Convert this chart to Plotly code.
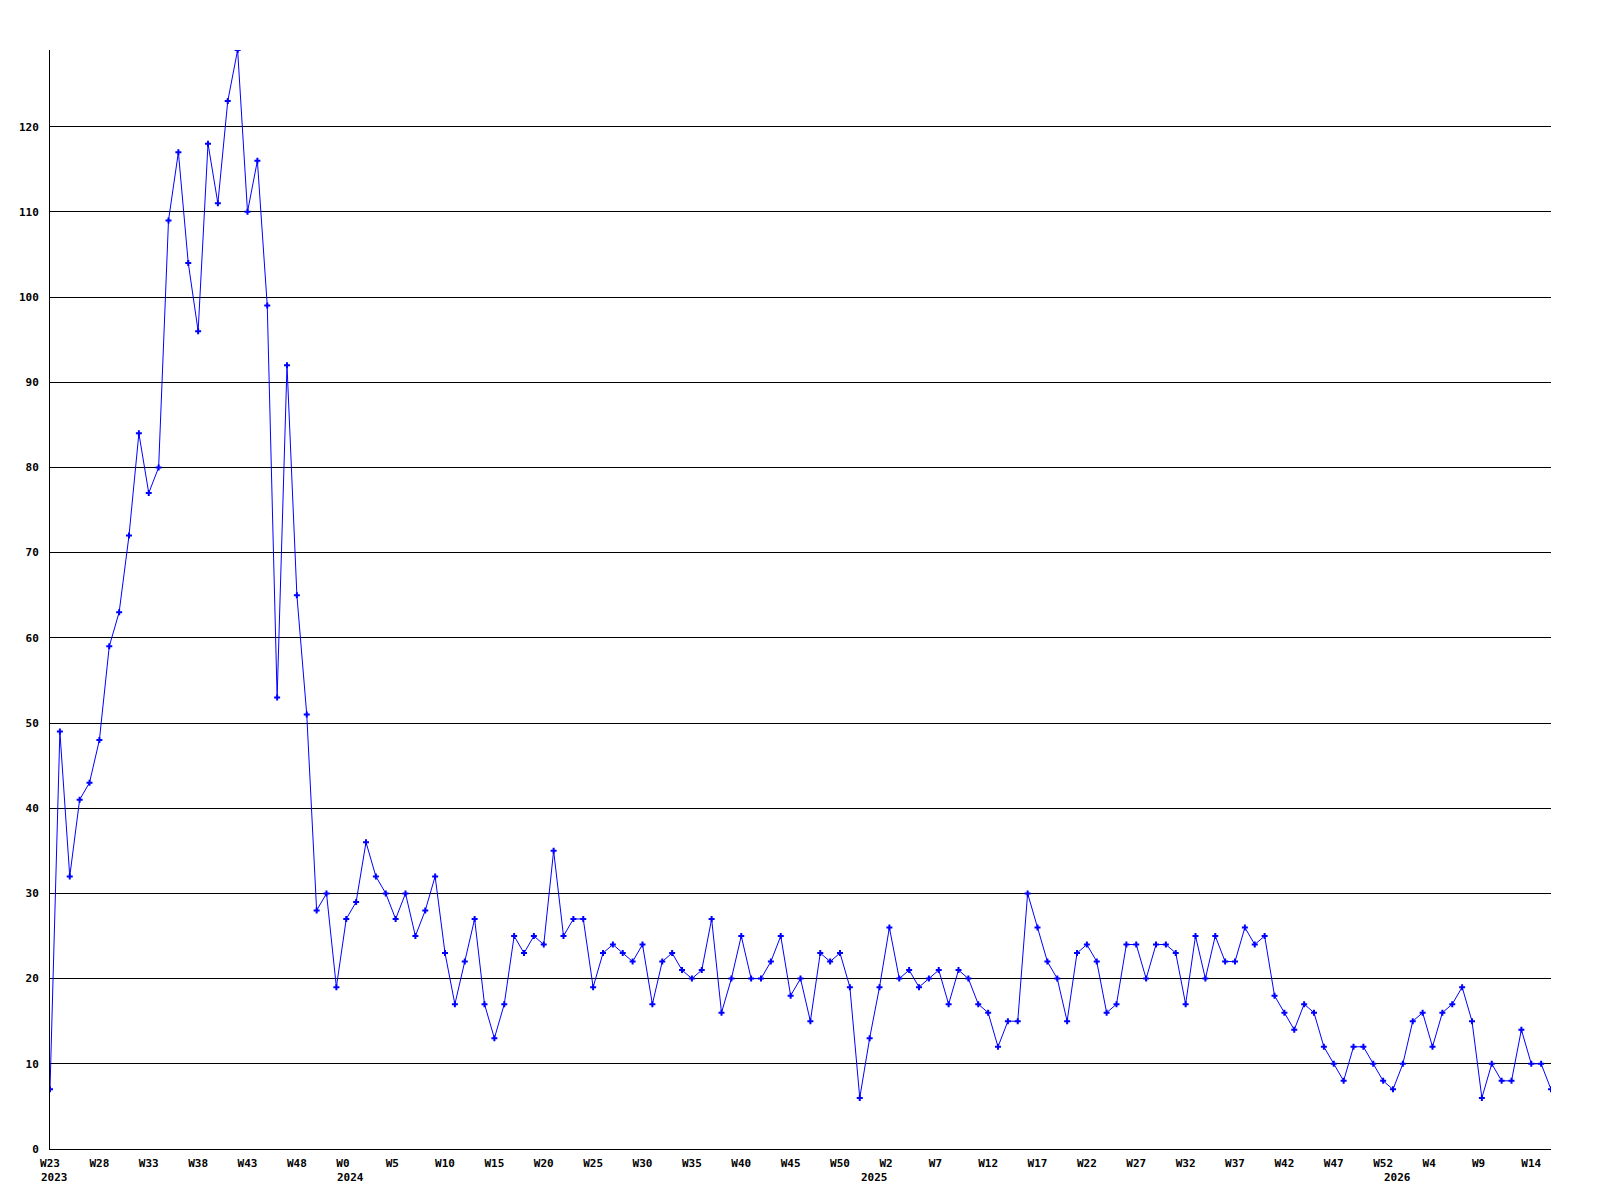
import plotly.graph_objects as go

# weeks covered: (year, first week, last week)
year_spans = [(2023, 23, 52), (2024, 0, 52), (2025, 0, 52), (2026, 0, 16)]

counts = [
    7, 49, 32, 41, 43, 48, 59, 63, 72, 84,
    77, 80, 109, 117, 104, 96, 118, 111, 123, 129,
    110, 116, 99, 53, 92, 65, 51, 28, 30, 19,
    27, 29, 36, 32, 30, 27, 30, 25, 28, 32,
    23, 17, 22, 27, 17, 13, 17, 25, 23, 25,
    24, 35, 25, 27, 27, 19, 23, 24, 23, 22,
    24, 17, 22, 23, 21, 20, 21, 27, 16, 20,
    25, 20, 20, 22, 25, 18, 20, 15, 23, 22,
    23, 19, 6, 13, 19, 26, 20, 21, 19, 20,
    21, 17, 21, 20, 17, 16, 12, 15, 15, 30,
    26, 22, 20, 15, 23, 24, 22, 16, 17, 24,
    24, 20, 24, 24, 23, 17, 25, 20, 25, 22,
    22, 26, 24, 25, 18, 16, 14, 17, 16, 12,
    10, 8, 12, 12, 10, 8, 7, 10, 15, 16,
    12, 16, 17, 19, 15, 6, 10, 8, 8, 14,
    10, 10, 7,
]

# build week categories
weeks = []
years = []
for yr, w0, w1 in year_spans:
    for w in range(w0, w1 + 1):
        weeks.append(w)
        years.append(yr)

x_idx = list(range(len(counts)))

# tick labels every 5 weeks; short ones padded so they sit left-aligned like the original
tick_vals = []
tick_text = []
for i in range(0, len(weeks), 5):
    label = f"W{weeks[i]}"
    if len(label) < 3:
        label += "\u00a0"
    tick_vals.append(i)
    tick_text.append(label)

# year label goes under the first week of each year
year_starts = []
for i, yr in enumerate(years):
    if i == 0 or years[i - 1] != yr:
        year_starts.append((i, yr))

font = dict(family="DejaVu Sans Mono", size=11, color="black", weight="bold")

fig = go.Figure()
fig.add_trace(go.Scatter(
    x=x_idx, y=counts,
    mode="lines+markers",
    line=dict(color="#0000ff", width=1),
    marker=dict(symbol="cross", size=5, color="#0000ff"),
    hoverinfo="y",
))

for i, yr in year_starts:
    fig.add_annotation(
        x=i, y=0, xref="x", yref="paper",
        text=str(yr), showarrow=False,
        xanchor="left", yanchor="top",
        xshift=-11, yshift=-20,
        font=font,
    )

# page body has an 8px default margin, so margins are reduced to compensate
fig.update_layout(
    width=1600, height=1200,
    plot_bgcolor="white", paper_bgcolor="white",
    margin=dict(l=42, r=57, t=42, b=59),
    showlegend=False,
    xaxis=dict(
        range=[0, len(counts) - 1],
        tickvals=tick_vals, ticktext=tick_text,
        tickfont=font, tickangle=0,
        showgrid=False, zeroline=False,
        showline=True, linecolor="black", linewidth=1,
        ticks="", ticklabelstandoff=4,
    ),
    yaxis=dict(
        range=[0, 129],
        tick0=0, dtick=10,
        tickfont=font,
        showgrid=True, gridcolor="black", gridwidth=1,
        zeroline=False,
        showline=True, linecolor="black", linewidth=1,
        ticks="", ticklabelstandoff=8,
    ),
)

fig.write_html("out.html")
